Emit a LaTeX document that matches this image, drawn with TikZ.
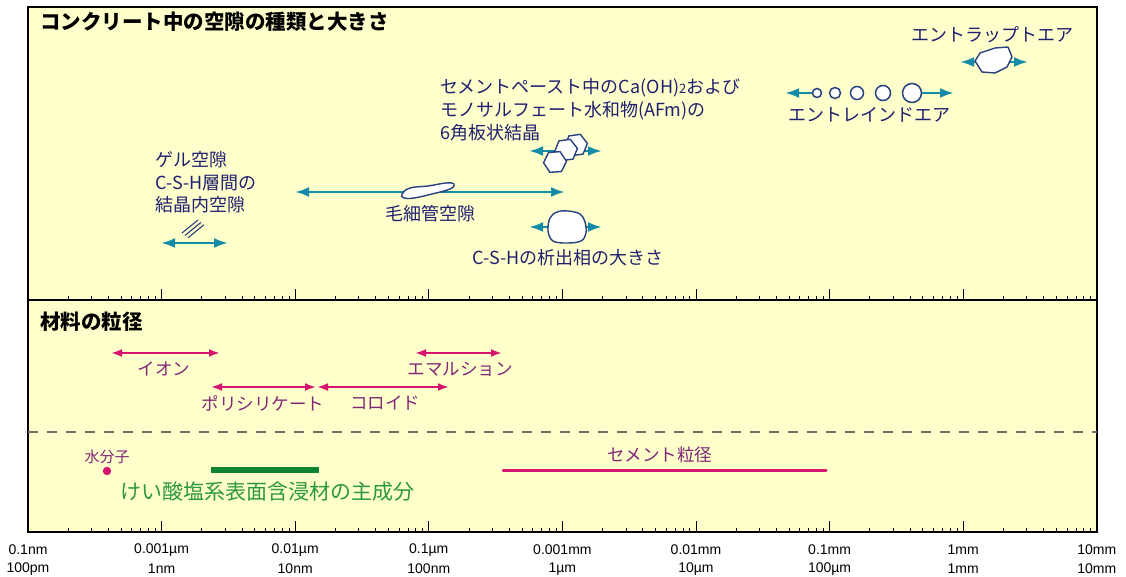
\documentclass[tikz,border=0pt]{standalone}
\usepackage{fontspec}
\setmainfont{Noto Sans CJK JP}
\newfontfamily\axisfont{Liberation Sans}
\usetikzlibrary{arrows.meta,shapes.geometric}

\definecolor{paper}{RGB}{255,255,204}
\definecolor{navytext}{RGB}{32,32,112}
\definecolor{poreteal}{RGB}{20,140,168}
\definecolor{poreline}{RGB}{40,66,128}
\definecolor{matmag}{RGB}{214,20,110}
\definecolor{matpurple}{RGB}{128,40,118}
\definecolor{glassgreen}{RGB}{12,132,52}
\definecolor{glasstext}{RGB}{44,152,64}
\definecolor{sepgrey}{RGB}{110,110,100}

\tikzset{
  heading/.style={font=\fontsize{20.5}{24}\selectfont\bfseries, text=black, inner sep=0pt, anchor=west},
  porelbl/.style={font=\fontsize{18}{21}\selectfont, text=navytext, inner sep=0pt},
  matlbl/.style={font=\fontsize{17.5}{20}\selectfont, text=matpurple, inner sep=0pt},
  axlbl/.style={font=\axisfont\fontsize{14}{16}\selectfont, text=black, inner sep=0pt},
  tealarrow/.style={draw=poreteal, line width=2.6pt, >={Latex[length=14pt,width=10pt]}},
  magarrow/.style={draw=matmag, line width=2.4pt, >={Latex[length=11pt,width=8pt]}},
  grain/.style={draw=poreline, fill=white, line width=1.4pt},
  bubble/.style={circle, draw=poreline, fill=white, line width=1.5pt, inner sep=0pt},
  crystal/.style={regular polygon, regular polygon sides=6, draw=poreline, fill=white,
                  line width=1.4pt, minimum size=23pt, inner sep=0pt},
}

\begin{document}
\begin{tikzpicture}[x=1pt, y=-1pt]
\useasboundingbox (0,0) rectangle (1126,577);

% panel background and frame
\fill[paper] (28,7) rectangle (1097,532);
\draw[line width=1.4pt] (28,7) rectangle (1097,532);
\draw[line width=1.4pt] (28,300) -- (1097,300);
\draw[sepgrey, line width=1.1pt, dash pattern=on 10pt off 9pt] (28,432) -- (1097,432);

% logarithmic ticks on both scale lines (one decade = 133.6 px)
\foreach \yb in {300,532} {
  \foreach \d in {0,...,7} {
    \foreach \k in {2,...,9} {
      \pgfmathsetmacro{\xt}{28+133.6*(\d+log10(\k))}
      \draw[line width=1pt] (\xt,\yb) -- (\xt,\yb-4);
    }
  }
  \foreach \d in {1,...,7} {
    \pgfmathsetmacro{\xt}{28+133.6*\d}
    \draw[line width=1pt] (\xt,\yb) -- (\xt,\yb-11);
  }
}

% scale labels
\foreach \d/\a/\b in {0/0.1nm/100pm, 1/0.001µm/1nm, 2/0.01µm/10nm, 3/0.1µm/100nm,
                      4/0.001mm/1µm, 5/0.01mm/10µm, 6/0.1mm/100µm, 7/1mm/1mm, 8/10mm/10mm} {
  \pgfmathsetmacro{\xl}{28+133.6*\d}
  \node[axlbl] (axa\d) at (\xl,550) {\a};
  \node[axlbl] (axb\d) at (\xl,569) {\b};
}

% ---------------- pores in concrete ----------------
\node[heading] (poretitle) at (40,22) {コンクリート中の空隙の種類と大きさ};

% entrapped air
\node[porelbl] (trappedlbl) at (992,35) {エントラップトエア};
\coordinate (trapL) at (960,62);
\coordinate (trapR) at (1028,62);
\draw[tealarrow, <->] (trapL) -- (trapR);
\draw[grain, line join=round] (975,61) -- (980,53) -- (995,48) -- (1008,47) -- (1012,57)
  -- (1007,67) -- (995,73) -- (982,72) -- cycle;

% entrained air
\node[bubble, minimum size=9pt]  (b1) at (817,93) {};
\node[bubble, minimum size=11pt] (b2) at (835,93) {};
\node[bubble, minimum size=13pt] (b3) at (857,93) {};
\node[bubble, minimum size=15pt] (b4) at (883,93) {};
\node[bubble, minimum size=19pt] (b5) at (912,93) {};
\coordinate (airL) at (785,93);
\coordinate (airR) at (954,93);
\draw[tealarrow, ->] (b1) -- (airL);
\draw[tealarrow, ->] (b5) -- (airR);
\node[porelbl] (trainedlbl) at (869,115) {エントレインドエア};

% hexagonal plates
\node[porelbl, anchor=west] (plate1) at (440,88) {セメントペースト中のCa(OH){\fontsize{13}{15}\selectfont 2}および};
\node[porelbl, anchor=west] (plate2) at (440,111) {モノサルフェート水和物(AFm)の};
\node[porelbl, anchor=west] (plate3) at (440,133) {6角板状結晶};
\coordinate (hexL) at (529,151);
\coordinate (hexR) at (602,151);
\draw[tealarrow, <->] (hexL) -- (hexR);
\node[crystal, rotate=8] (hx3) at (576,145) {};
\node[crystal, rotate=8] (hx2) at (566,150) {};
\node[crystal, rotate=4] (hx1) at (555,162) {};

% capillary pores
\coordinate (capL) at (295,192);
\coordinate (capR) at (565,192);
\draw[tealarrow, <->] (capL) -- (capR);
\draw[grain] plot[smooth cycle, tension=0.7] coordinates
  {(402,194) (410,188) (428,186) (446,183) (454,184) (450,189) (432,194) (414,198) (404,198)};
\node[porelbl] (caplbl) at (430,214) {毛細管空隙};

% C-S-H precipitates
\coordinate (cshL) at (529,227);
\coordinate (cshR) at (602,227);
\draw[tealarrow, <->] (cshL) -- (cshR);
\draw[grain] plot[smooth cycle, tension=0.6] coordinates
  {(550,218) (557,212) (568,211) (580,214) (585,222) (586,233) (581,241) (567,243) (553,241) (548,231)};
\node[porelbl] (cshlbl) at (568,258) {C-S-Hの析出相の大きさ};

% gel pores
\node[porelbl, anchor=west] (gel1) at (155,160) {ゲル空隙};
\node[porelbl, anchor=west] (gel2) at (155,183) {C-S-H層間の};
\node[porelbl, anchor=west] (gel3) at (155,205) {結晶内空隙};
\foreach \o in {0,3,6} {
  \draw[poreline, line width=1.1pt] (182+\o,233+\o*0.8) -- (198+\o,220+\o*0.8);
}
\coordinate (gelL) at (161,243);
\coordinate (gelR) at (228,243);
\draw[tealarrow, <->] (gelL) -- (gelR);

% ---------------- particle sizes of materials ----------------
\node[heading] (mattitle) at (40,322) {材料の粒径};

\coordinate (ionL) at (111,353);
\coordinate (ionR) at (220,353);
\draw[magarrow, <->] (ionL) -- (ionR);
\node[matlbl] (ionlbl) at (164,369) {イオン};

\coordinate (emuL) at (415,353);
\coordinate (emuR) at (502,353);
\draw[magarrow, <->] (emuL) -- (emuR);
\node[matlbl] (emulbl) at (460,369) {エマルション};

\coordinate (polL) at (211,387);
\coordinate (polR) at (316,387);
\draw[magarrow, <->] (polL) -- (polR);
\node[matlbl] (pollbl) at (263,403) {ポリシリケート};

\coordinate (colL) at (317,387);
\coordinate (colR) at (449,387);
\draw[magarrow, <->] (colL) -- (colR);
\node[matlbl] (collbl) at (385,403) {コロイド};

% water molecule
\node[matlbl, font=\fontsize{15}{18}\selectfont] (waterlbl) at (107,457) {水分子};
\fill[matmag] (107,471) circle (4.2pt);

% silicate impregnant
\coordinate (silL) at (211,470);
\coordinate (silR) at (319,470);
\draw[glassgreen, line width=6pt] (silL) -- (silR);
\node[inner sep=0pt, anchor=west, text=glasstext, font=\fontsize{21}{25}\selectfont] (sillbl) at (120,492) {けい酸塩系表面含浸材の主成分};

% cement grains
\coordinate (cemL) at (503,470);
\coordinate (cemR) at (826,470);
\draw[matmag, line width=3pt, line cap=round] (cemL) -- (cemR);
\node[matlbl] (cemlbl) at (660,455) {セメント粒径};

\end{tikzpicture}
\end{document}
